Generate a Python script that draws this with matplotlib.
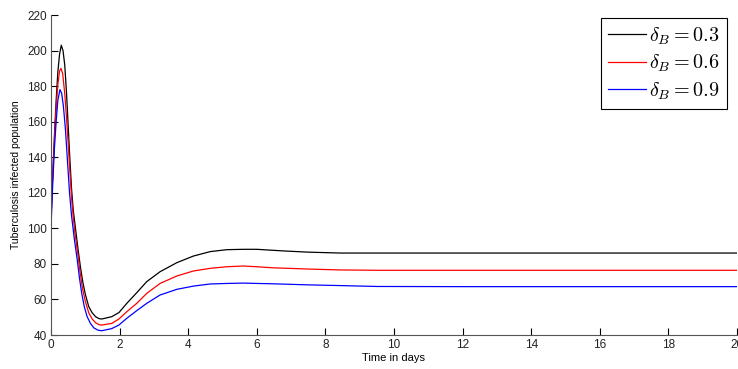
import matplotlib
matplotlib.use("Agg")
import matplotlib.pyplot as plt

plt.rcParams['mathtext.fontset'] = 'cm'
plt.rcParams['font.family'] = ['Liberation Sans', 'DejaVu Sans']

t_black = [0, 0.05, 0.1, 0.15, 0.2, 0.25, 0.3, 0.35, 0.4, 0.45, 0.5, 0.55, 0.6, 0.65, 0.72, 0.79, 0.86, 0.93, 1.0, 1.1, 1.2, 1.3, 1.4, 1.48, 1.77, 1.98, 2.21, 2.5, 2.79, 3.18, 3.67, 4.15, 4.64, 5.13, 5.61, 6.0, 6.77, 7.5, 8.43, 9.5, 12, 16, 20]
y_black = [105, 130, 152, 172, 188, 198, 203, 200, 192, 177, 158, 139, 122, 110, 99, 88, 78, 69.5, 63, 56, 52.5, 50.3, 49.2, 49.0, 50.3, 52.6, 57.8, 63.8, 70.0, 75.6, 80.7, 84.4, 86.9, 88.0, 88.2, 88.2, 87.3, 86.6, 86.1, 86.1, 86.1, 86.1, 86.1]

t_red = [0, 0.05, 0.1, 0.15, 0.2, 0.25, 0.29, 0.34, 0.4, 0.45, 0.5, 0.55, 0.6, 0.65, 0.7, 0.78, 0.85, 0.92, 1.0, 1.1, 1.2, 1.3, 1.4, 1.48, 1.77, 1.98, 2.21, 2.5, 2.79, 3.18, 3.67, 4.15, 4.64, 5.13, 5.61, 6.0, 6.47, 7.5, 8.43, 9.5, 12, 16, 20]
y_red = [105, 130, 150, 168, 181, 188.5, 190, 187, 176, 163, 148, 132, 117, 106, 97, 86, 75, 66, 59, 52.5, 49, 46.9, 45.8, 45.6, 46.5, 49.0, 53.1, 57.8, 63.4, 69.0, 73.2, 76.0, 77.5, 78.4, 78.8, 78.4, 77.8, 77.1, 76.6, 76.4, 76.4, 76.4, 76.4]

t_blue = [0, 0.05, 0.1, 0.15, 0.2, 0.26, 0.31, 0.36, 0.42, 0.48, 0.54, 0.6, 0.68, 0.76, 0.83, 0.9, 0.97, 1.05, 1.15, 1.25, 1.37, 1.48, 1.77, 1.98, 2.21, 2.5, 2.79, 3.18, 3.67, 4.15, 4.64, 5.13, 5.61, 6.0, 6.47, 7.5, 8.43, 9.5, 12, 16, 20]
y_blue = [100, 125, 145, 160, 172, 178, 176, 169, 156, 138, 120, 107, 94, 83, 72, 63, 56, 50.5, 46.5, 44, 42.7, 42.4, 43.6, 45.6, 49.4, 53.7, 57.8, 62.5, 65.7, 67.5, 68.7, 69.0, 69.2, 69.0, 68.8, 68.2, 67.8, 67.3, 67.2, 67.2, 67.2]

labels = [r'$\delta_B = 0.3$', r'$\delta_B = 0.6$', r'$\delta_B = 0.9$']
colors = ['black', 'red', 'blue']

x_ticks = list(range(0, 21, 2))
y_ticks = list(range(40, 221, 20))

fig = plt.figure(figsize=(7.38, 3.69), dpi=100)
ax = fig.add_axes([51/738, 1 - 335/369, (737 - 51)/738, (335 - 15)/369])

for t, y, c, lab in zip([t_black, t_red, t_blue], [y_black, y_red, y_blue], colors, labels):
    ax.plot(t, y, color=c, lw=0.9, label=lab)

ax.set_xlim(0, 20)
ax.set_ylim(40, 220)
ax.set_xticks(x_ticks)
ax.set_yticks(y_ticks)
ax.tick_params(direction='in', length=5, width=0.8, labelsize=8.5, colors='black', pad=3)
for lab in ax.get_xticklabels() + ax.get_yticklabels():
    lab.set_color('#222222')
ax.spines['top'].set_visible(False)
ax.spines['right'].set_visible(False)
ax.spines['left'].set_color('#555555')
ax.spines['bottom'].set_color('#555555')
ax.set_xlabel('Time in days', fontsize=8, labelpad=1)
ax.set_ylabel('Tuberculosis infected population', fontsize=7.5, labelpad=4)

leg = ax.legend(loc='upper right', bbox_to_anchor=(0.985, 0.99), fontsize=14.5,
                fancybox=False, edgecolor='black', framealpha=1, handlelength=1.9,
                handletextpad=0.15, borderpad=0.35, labelspacing=0.3, borderaxespad=0)
leg.get_frame().set_linewidth(0.8)

fig.savefig('out.png', dpi=100)
